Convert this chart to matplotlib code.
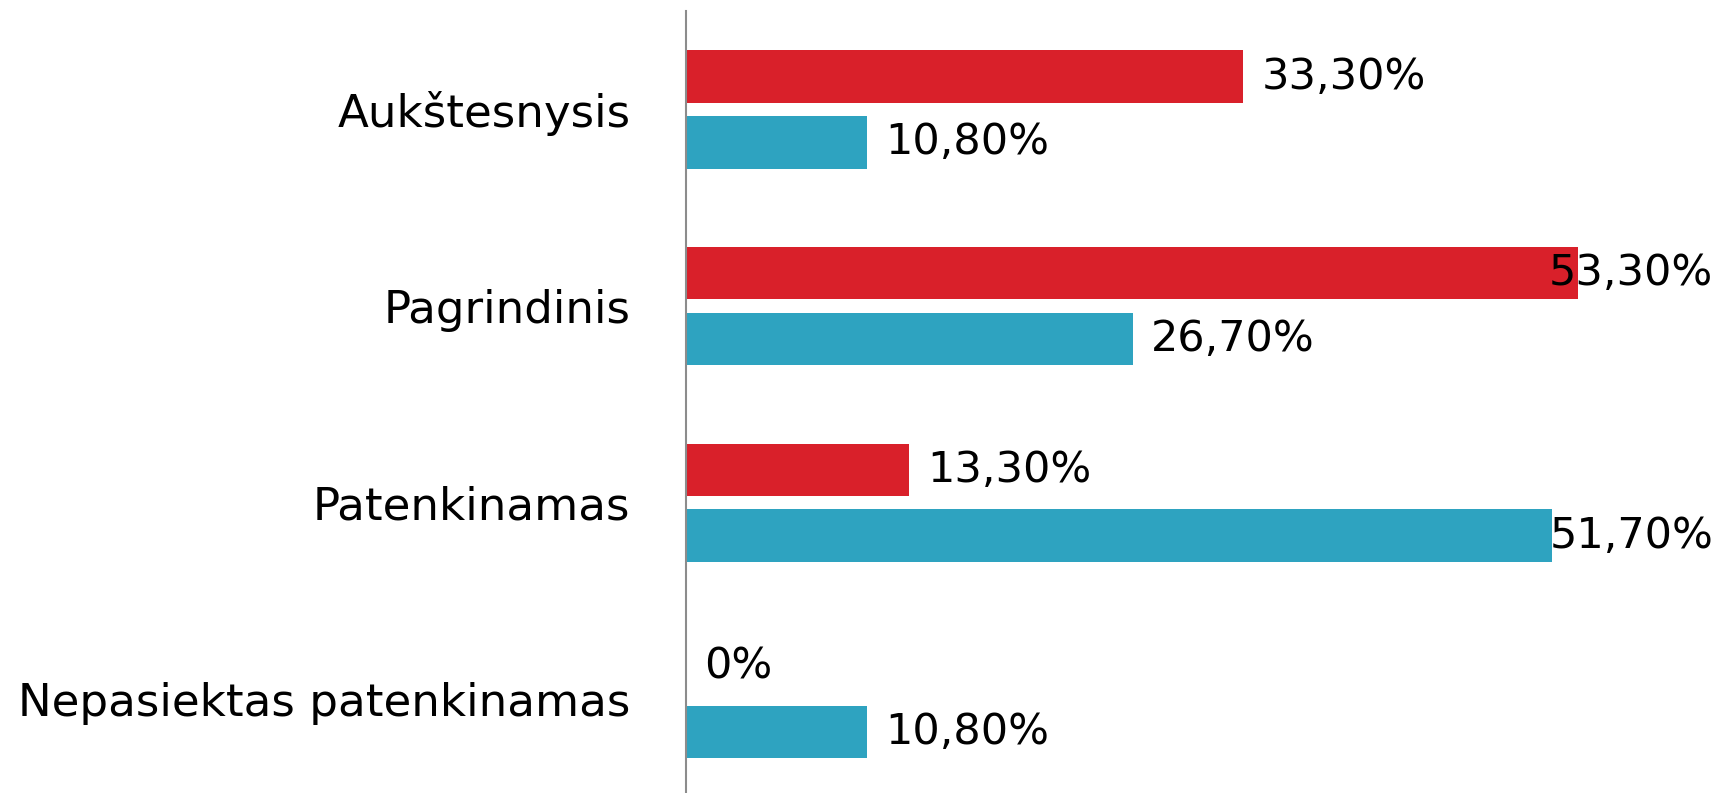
import numpy as np
import matplotlib
matplotlib.use('Agg')
import matplotlib.pyplot as plt

# Chart data
categories = ['Aukštesnysis', 'Pagrindinis', 'Patenkinamas', 'Nepasiektas patenkinamas']
red_values = [33.3, 53.3, 13.3, 0.0]
blue_values = [10.8, 26.7, 51.7, 10.8]
red_labels = ['33,30%', '53,30%', '13,30%', '0%']
blue_labels = ['10,80%', '26,70%', '51,70%', '10,80%']

red_color = '#D9202A'
blue_color = '#2EA3C0'

fig = plt.figure(figsize=(17.19, 7.93), dpi=100)
ax = fig.add_axes([0.399, 0.0, 0.601, 0.986])

y = np.arange(len(categories))
bar_h = 0.267
offset = 0.167

ax.barh(y - offset, red_values, height=bar_h, color=red_color)
ax.barh(y + offset, blue_values, height=bar_h, color=blue_color)

x_max = 61.7
ax.set_xlim(0, x_max)
ax.set_ylim(3.476, -0.5)


def add_label(val, ypos, text):
    # labels that would run off the figure are pulled back inside
    if val > 45:
        ax.text(x_max - 0.35, ypos, text, ha='right', va='center', fontsize=31, color='black')
    else:
        ax.text(val + 1.1, ypos, text, ha='left', va='center', fontsize=31, color='black')


for i in range(len(categories)):
    add_label(red_values[i], y[i] - offset, red_labels[i])
    add_label(blue_values[i], y[i] + offset, blue_labels[i])

ax.set_yticks(y)
ax.set_yticklabels(categories, fontsize=32.5)
ax.tick_params(axis='y', length=0, pad=40)
ax.set_xticks([])

for side in ['top', 'right', 'bottom']:
    ax.spines[side].set_visible(False)
ax.spines['left'].set_color('#8C8C8C')
ax.spines['left'].set_linewidth(1.5)

fig.savefig('out.png', dpi=100)
